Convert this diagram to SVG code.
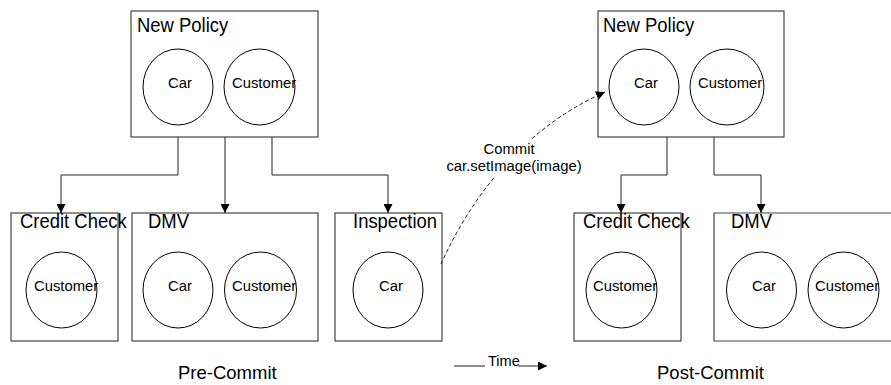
<svg xmlns="http://www.w3.org/2000/svg" width="891" height="385" viewBox="0 0 891 385">
  <style>
    text { font-family: "Liberation Sans", Arial, sans-serif; fill: #000; }
    .box { fill: none; stroke: #444; stroke-width: 1.2; }
    .obj { fill: none; stroke: #000; stroke-width: 1; }
    .title { font-size: 20.5px; }
    .lbl { font-size: 15.3px; }
    .cap { font-size: 18.5px; }
    .wire { fill: none; stroke: #222; stroke-width: 1; }
  </style>
  <defs>
    <marker id="tri" viewBox="0 0 10 10" refX="10" refY="5" markerWidth="9" markerHeight="9" markerUnits="userSpaceOnUse" orient="auto">
      <path d="M0,0 L10,5 L0,10 Z" fill="#000"/>
    </marker>
  </defs>

  <rect width="891" height="385" fill="#fff"/>

  <!-- Pre-commit state -->
  <g id="pre-new-policy">
    <rect class="box" x="131" y="11" width="187" height="126"/>
    <text class="title" transform="translate(137,32) scale(0.9,1)">New Policy</text>
    <ellipse class="obj" cx="178" cy="87" rx="35" ry="38"/>
    <text class="lbl" transform="translate(168,88) scale(0.97,1)">Car</text>
    <ellipse class="obj" cx="259.5" cy="87" rx="35.5" ry="38"/>
    <text class="lbl" transform="translate(232,88) scale(0.97,1)">Customer</text>
  </g>

  <g id="pre-credit-check">
    <rect class="box" x="11" y="213" width="107" height="128"/>
    <text class="title" transform="translate(20,228) scale(0.9,1)">Credit Check</text>
    <ellipse class="obj" cx="61.5" cy="290" rx="35.5" ry="38"/>
    <text class="lbl" transform="translate(34,290.5) scale(0.97,1)">Customer</text>
  </g>

  <g id="pre-dmv">
    <rect class="box" x="132" y="213" width="186" height="128"/>
    <text class="title" transform="translate(148,228) scale(0.9,1)">DMV</text>
    <ellipse class="obj" cx="178" cy="290" rx="35" ry="38"/>
    <text class="lbl" transform="translate(168,290.5) scale(0.97,1)">Car</text>
    <ellipse class="obj" cx="260.5" cy="290" rx="36" ry="38"/>
    <text class="lbl" transform="translate(232,290.5) scale(0.97,1)">Customer</text>
  </g>

  <g id="pre-inspection">
    <rect class="box" x="335" y="213" width="107" height="128"/>
    <text class="title" transform="translate(353,228) scale(0.9,1)">Inspection</text>
    <ellipse class="obj" cx="388" cy="290" rx="35" ry="38"/>
    <text class="lbl" transform="translate(379,290.5) scale(0.97,1)">Car</text>
  </g>

  <!-- Post-commit state -->
  <g id="post-new-policy">
    <rect class="box" x="598" y="11" width="186" height="126"/>
    <text class="title" transform="translate(603,32) scale(0.9,1)">New Policy</text>
    <ellipse class="obj" cx="644" cy="87" rx="35" ry="38"/>
    <text class="lbl" transform="translate(634,88) scale(0.97,1)">Car</text>
    <ellipse class="obj" cx="727" cy="87" rx="37" ry="38"/>
    <text class="lbl" transform="translate(698,88) scale(0.97,1)">Customer</text>
  </g>

  <g id="post-credit-check">
    <rect class="box" x="574" y="213" width="107" height="128"/>
    <text class="title" transform="translate(583,228) scale(0.9,1)">Credit Check</text>
    <ellipse class="obj" cx="621.5" cy="290" rx="35.5" ry="38"/>
    <text class="lbl" transform="translate(593,290.5) scale(0.97,1)">Customer</text>
  </g>

  <g id="post-dmv">
    <path class="box" d="M895,213 H714 V341 H895"/>
    <text class="title" transform="translate(731,228) scale(0.9,1)">DMV</text>
    <ellipse class="obj" cx="761.5" cy="290" rx="35" ry="38"/>
    <text class="lbl" transform="translate(752,290.5) scale(0.97,1)">Car</text>
    <ellipse class="obj" cx="843.5" cy="290" rx="35.5" ry="38"/>
    <text class="lbl" transform="translate(815,290.5) scale(0.97,1)">Customer</text>
  </g>

  <!-- Connectors -->
  <g id="connectors">
    <path class="wire" d="M178,137 V175 H61 V213" marker-end="url(#tri)"/>
    <path class="wire" d="M225,137 V213" marker-end="url(#tri)"/>
    <path class="wire" d="M272,137 V175 H388 V213" marker-end="url(#tri)"/>
    <path class="wire" d="M667,137 V175 H621 V213" marker-end="url(#tri)"/>
    <path class="wire" d="M714,137 V175 H761 V213" marker-end="url(#tri)"/>

    <path class="wire" d="M441,264 C470,200 520,130 605,92" stroke-dasharray="4,2.5" marker-end="url(#tri)"/>
    <rect x="443" y="139" width="142" height="38" fill="#fff"/>
    <text class="lbl" transform="translate(509,154) scale(0.97,1)" text-anchor="middle">Commit</text>
    <text class="lbl" transform="translate(514,171) scale(0.97,1)" text-anchor="middle">car.setImage(image)</text>

    <path class="wire" stroke-width="1.3" d="M454,366 H485"/>
    <path class="wire" stroke-width="1.3" d="M518,366 H547" marker-end="url(#tri)"/>
    <text font-size="14.6" x="488" y="366">Time</text>
  </g>

  <text class="cap" x="178" y="379">Pre-Commit</text>
  <text class="cap" x="657" y="379">Post-Commit</text>
</svg>
